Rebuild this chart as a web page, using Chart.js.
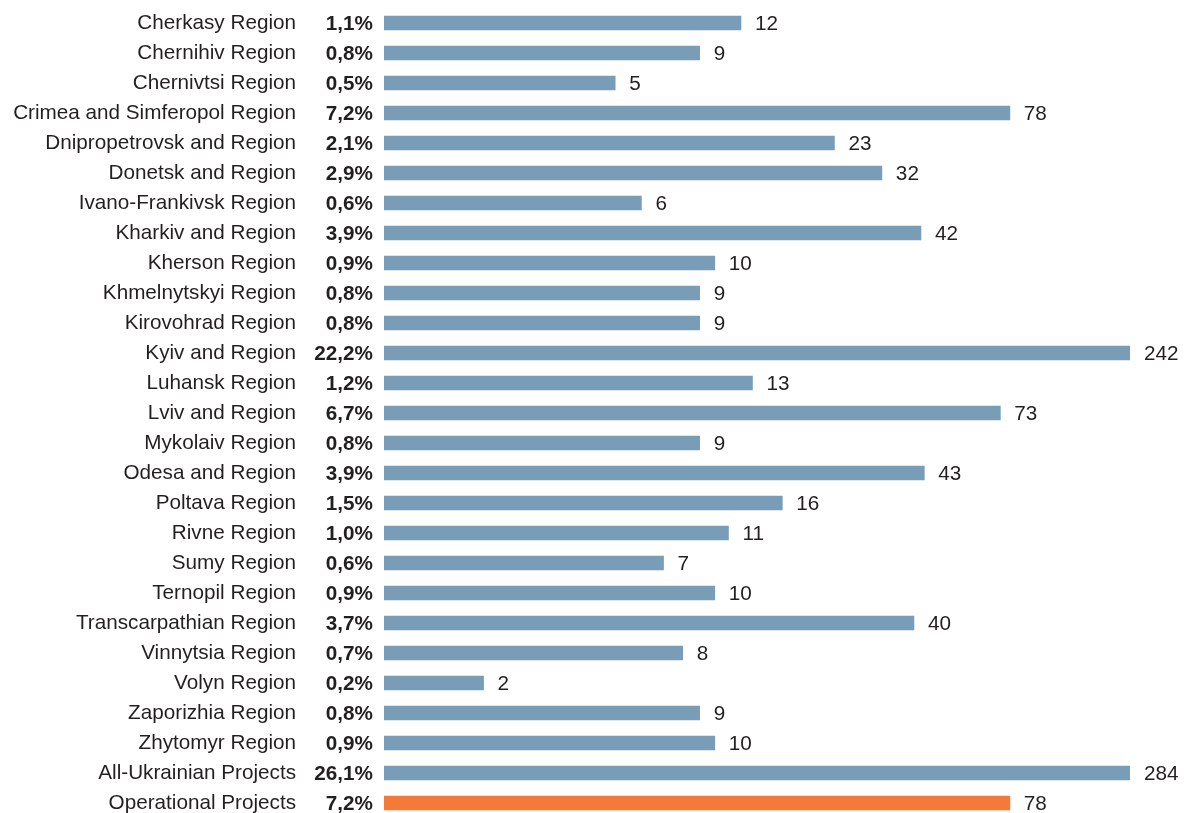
<!DOCTYPE html>
<html>
<head>
<meta charset="utf-8">
<script src="https://cdn.jsdelivr.net/npm/chart.js@4/dist/chart.umd.min.js"></script>
<style>
	html, body { margin: 0; padding: 0; background: #fff; }
	#wrap { width: 1192px; height: 813px; }
</style>
</head>
<body>
<div id="wrap"><canvas id="regionChart"></canvas></div>
<script>
const regions = [
	'Cherkasy Region', 'Chernihiv Region', 'Chernivtsi Region',
	'Crimea and Simferopol Region', 'Dnipropetrovsk and Region',
	'Donetsk and Region', 'Ivano-Frankivsk Region', 'Kharkiv and Region',
	'Kherson Region', 'Khmelnytskyi Region', 'Kirovohrad Region',
	'Kyiv and Region', 'Luhansk Region', 'Lviv and Region', 'Mykolaiv Region',
	'Odesa and Region', 'Poltava Region', 'Rivne Region', 'Sumy Region',
	'Ternopil Region', 'Transcarpathian Region', 'Vinnytsia Region',
	'Volyn Region', 'Zaporizhia Region', 'Zhytomyr Region',
	'All-Ukrainian Projects', 'Operational Projects',
];
const projectCounts = [
	12, 9, 5, 78, 23, 32, 6, 42, 10, 9, 9, 242, 13, 73, 9,
	43, 16, 11, 7, 10, 40, 8, 2, 9, 10, 284, 78,
];
const shares = [
	1.1, 0.8, 0.5, 7.2, 2.1, 2.9, 0.6, 3.9, 0.9, 0.8, 0.8, 22.2, 1.2, 6.7, 0.8,
	3.9, 1.5, 1.0, 0.6, 0.9, 3.7, 0.7, 0.2, 0.8, 0.9, 26.1, 7.2,
];

const BLUE = '#7a9db7';
const ORANGE = '#f47a3a';
const INK = '#231f20';
const FONT = '"Liberation Sans", Arial, sans-serif';
const SIZE = 20.7;

// share column + value labels next to each bar
const labelPlugin = {
	id: 'barLabels',
	afterDatasetsDraw(chart) {
		const ctx = chart.ctx;
		const area = chart.chartArea;
		const bars = chart.getDatasetMeta(0).data;
		ctx.save();
		ctx.fillStyle = INK;
		ctx.textBaseline = 'middle';
		bars.forEach((bar, i) => {
			ctx.font = 'bold ' + SIZE + 'px ' + FONT;
			ctx.textAlign = 'right';
			ctx.fillText(shares[i].toFixed(1).replace('.', ',') + '%', area.left - 11, bar.y + 1);

			ctx.font = SIZE + 'px ' + FONT;
			ctx.textAlign = 'left';
			ctx.fillText(String(projectCounts[i]), Math.min(bar.x, area.right) + 14, bar.y + 1);
		});
		ctx.restore();
	},
};

new Chart(document.getElementById('regionChart'), {
	type: 'bar',
	data: {
		labels: regions,
		datasets: [
			{
				data: projectCounts,
				backgroundColor: regions.map((r, i) =>
					i === regions.length - 1 ? ORANGE : BLUE
				),
				borderWidth: 0,
				barThickness: 14,
				// clip only on the right, the two largest bars run past the axis max
				clip: { left: 0, right: 0, top: false, bottom: false },
			},
		],
	},
	options: {
		indexAxis: 'y',
		responsive: true,
		maintainAspectRatio: false,
		animation: false,
		layout: { padding: { top: 23, bottom: 10, left: 0, right: 62 } },
		scales: {
			x: {
				type: 'logarithmic',
				min: 1,
				max: 180,
				display: false,
			},
			y: {
				offset: false,
				grid: { display: false, drawTicks: false },
				border: { display: false },
				ticks: {
					color: INK,
					padding: 88,
					font: { family: FONT, size: SIZE },
				},
				afterFit(scale) {
					scale.width = 384;
					// tick padding would otherwise push the plot area down
					scale.paddingTop = 0;
					scale.paddingBottom = 0;
				},
			},
		},
		plugins: {
			legend: { display: false },
			tooltip: { enabled: false },
		},
	},
	plugins: [labelPlugin],
});
</script>
</body>
</html>
